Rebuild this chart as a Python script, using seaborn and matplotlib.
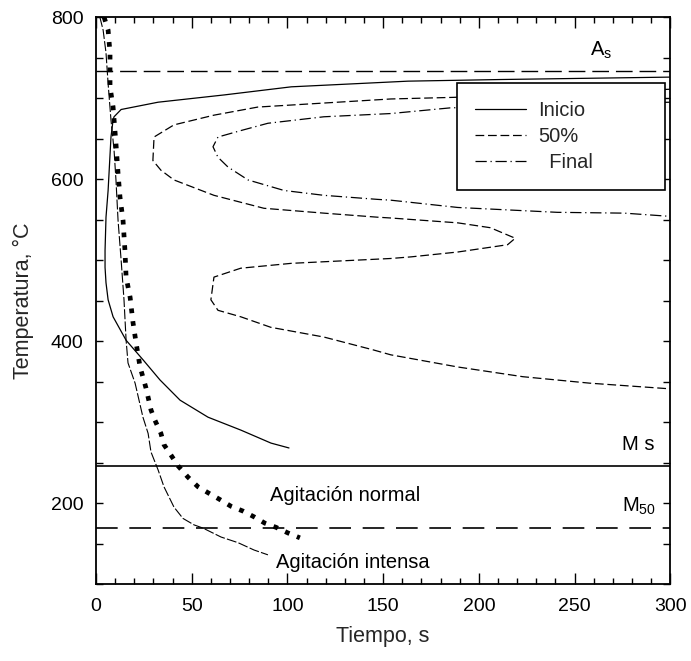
import matplotlib
matplotlib.use("Agg")
import matplotlib.pyplot as plt
from matplotlib.ticker import MultipleLocator
import pandas as pd
import seaborn as sns

# curva de inicio de transformacion (tiempo s, temperatura C)
INICIO_T = [300, 211, 163, 102, 67, 32.4, 13.1, 9.4, 8.9, 7.8, 6.3, 5.2, 4.7, 4.7,
            5.2, 6.3, 8.9, 15.7, 24.5, 33.4, 43.9, 58.5, 75.7, 91.4, 100.8]
INICIO_C = [726, 723, 721, 714, 704, 695, 686, 677, 673, 652, 586, 553, 512, 491,
            472, 451, 430, 401, 377, 352, 327, 306, 290, 274, 268]

# 50% transformado
MITAD_T = [300, 240, 187, 154, 84.5, 61.6, 40.7, 30.3, 29.7, 33.9, 40.7, 61.6, 87.7,
           119, 147, 154, 189, 206, 219, 215, 189, 164.6, 154, 102, 75.6, 61.6, 60,
           63.7, 75.6, 91.3, 119, 145, 154, 189, 223, 258, 300]
MITAD_C = [711, 706, 701, 699, 689, 679, 667, 652, 623, 611, 599, 580, 564,
           558, 553, 552, 546, 540, 527, 519, 510, 504, 502, 496, 490, 479, 451,
           438, 430, 417, 405, 389, 383, 368, 356, 348, 341]

# final de transformacion
FINAL_T = [300, 240, 185, 154, 119, 89.8, 75.7, 63.7, 61.1, 63.7, 68.9, 79.4, 98.2,
           119, 147, 154, 189, 241, 276, 300]
FINAL_C = [695, 692, 688, 681, 677, 669, 660, 652, 640, 627, 615, 599, 586,
           580, 575, 574, 565, 559, 558, 554]

# curvas de enfriamiento
NORMAL_T = [4.2, 6.3, 7.3, 7.3, 8.9, 10.4, 11.5, 12.5, 14.1, 15.1, 15.7, 17.8, 19.3,
            20.9, 23.0, 26.1, 28.7, 30.8, 33.9, 35.5, 39.2, 42.8, 48.0, 53.3, 59.0,
            64.2, 70.5, 76.8, 82.5, 88.3, 94.0, 100.3, 106.5]
NORMAL_C = [800, 784, 756, 714, 689, 644, 607, 578, 549, 512, 479, 454, 423,
            398, 368, 342, 315, 302, 286, 272, 259, 246, 232, 220, 212,
            205, 196, 190, 183, 175, 170, 163, 157]
INTENSA_T = [2, 3.7, 5.2, 6.3, 7.8, 9.4, 10.4, 11.5, 13.1, 14.6, 15.7, 16.7, 20.4,
             24.5, 27.2, 28.7, 32.4, 35.5, 40.7, 45.4, 51.2, 55.9, 65.3, 74.2, 82.5, 89.8]
INTENSA_C = [800, 784, 756, 718, 673, 636, 599, 549, 500, 451, 401, 373, 348,
             306, 286, 263, 241, 220, 195, 181, 173, 169, 158, 151, 142, 136]

# temperaturas criticas
AS_TEMP = 733
MS_TEMP = 246
M50_TEMP = 169

sns.set_theme(style="ticks")
plt.rcParams["font.family"] = ["Liberation Sans", "DejaVu Sans"]
plt.rcParams["mathtext.fontset"] = "custom"
plt.rcParams["mathtext.rm"] = "Liberation Sans"

fig = plt.figure(figsize=(6.91, 6.61), dpi=100)
ax = fig.add_axes([0.139, 0.1165, 0.831, 0.8575])

thin = dict(color="black", linewidth=0.9, sort=False, estimator=None, ax=ax)
sns.lineplot(data=pd.DataFrame({"t": INICIO_T, "T": INICIO_C}), x="t", y="T",
             linestyle="-", label="Inicio", **thin)
sns.lineplot(data=pd.DataFrame({"t": MITAD_T, "T": MITAD_C}), x="t", y="T",
             linestyle=(0, (7, 3)), label="50%", **thin)
sns.lineplot(data=pd.DataFrame({"t": FINAL_T, "T": FINAL_C}), x="t", y="T",
             linestyle=(0, (9, 3, 1, 3)), label="  Final", **thin)
sns.lineplot(data=pd.DataFrame({"t": INTENSA_T, "T": INTENSA_C}), x="t", y="T",
             linestyle=(0, (9, 2)), color="black", linewidth=0.8, sort=False,
             estimator=None, ax=ax, legend=False)
sns.lineplot(data=pd.DataFrame({"t": NORMAL_T, "T": NORMAL_C}), x="t", y="T",
             linestyle=(0, (1, 1.7)), color="black", linewidth=3.4, sort=False,
             estimator=None, ax=ax, legend=False)

ax.axhline(AS_TEMP, color="black", linewidth=1.0, linestyle=(0, (12, 5)))
ax.axhline(MS_TEMP, color="black", linewidth=1.2, linestyle="-")
ax.axhline(M50_TEMP, color="black", linewidth=1.2, linestyle=(0, (13, 7)))

txt = dict(fontsize=14.5, color="black", ha="left", va="baseline")
ax.text(258, 753, r"A$_\mathrm{s}$", **txt)
ax.text(275, 265, "M s", **txt)
ax.text(275, 189, r"M$_\mathrm{50}$", **txt)
ax.text(91, 202, "Agitación normal", **txt)
ax.text(94, 120, "Agitación intensa", **txt)

ax.set_xlim(0, 300)
ax.set_ylim(100, 800)
ax.xaxis.set_major_locator(MultipleLocator(50))
ax.xaxis.set_minor_locator(MultipleLocator(10))
ax.yaxis.set_major_locator(MultipleLocator(200))
ax.yaxis.set_minor_locator(MultipleLocator(50))
ax.tick_params(which="both", direction="in", top=True, right=True, width=1.0,
               labelsize=14, colors="black")
ax.tick_params(axis="x", which="major", length=8, pad=10)
ax.tick_params(axis="x", which="minor", length=4)
ax.tick_params(axis="y", which="both", length=5, pad=9)
for sp in ax.spines.values():
    sp.set_linewidth(1.3)
    sp.set_color("black")

ax.set_xlabel("Tiempo, s", fontsize=15.5, labelpad=8)
ax.set_ylabel("Temperatura, °C", fontsize=15.5, labelpad=12)

leg = ax.legend(loc="upper left", bbox_to_anchor=(0.629, 0.682, 0.362, 0.202),
                mode="expand", fontsize=14.5, frameon=True, fancybox=False,
                edgecolor="black", framealpha=1, borderpad=0.9, labelspacing=0.35,
                handlelength=2.5, handletextpad=0.6, borderaxespad=0)
leg.get_frame().set_linewidth(1.2)
leg.set_zorder(10)

fig.savefig("out.png", dpi=100, facecolor="white")
